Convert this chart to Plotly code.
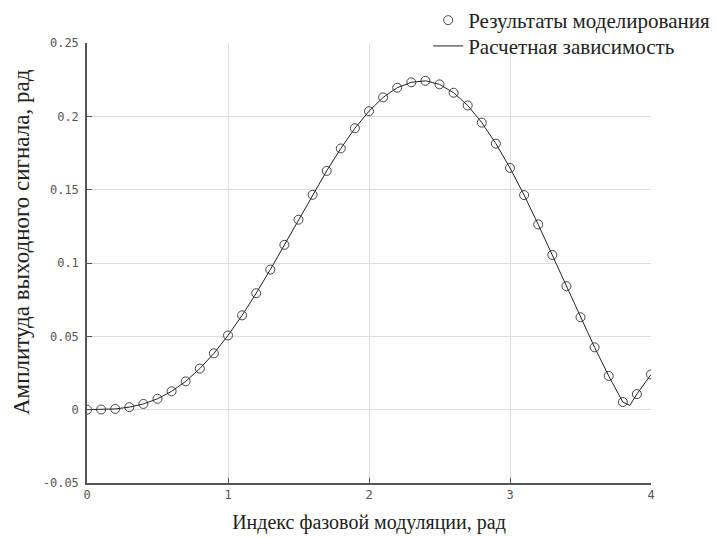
import plotly.graph_objects as go

# Phase-modulation index, rad (simulation grid)
mod_index = [0.0, 0.1, 0.2, 0.3, 0.4, 0.5, 0.6, 0.7, 0.8, 0.9,
             1.0, 1.1, 1.2, 1.3, 1.4, 1.5, 1.6, 1.7, 1.8, 1.9,
             2.0, 2.1, 2.2, 2.3, 2.4, 2.5, 2.6, 2.7, 2.8, 2.9,
             3.0, 3.1, 3.2, 3.3, 3.4, 3.5, 3.6, 3.7, 3.8, 3.9, 4.0]

# Simulated output amplitude, rad
sim_amp = [0.0, 0.0001, 0.0005, 0.0017, 0.0039, 0.0074, 0.0125, 0.0193, 0.0280, 0.0384,
           0.0506, 0.0643, 0.0794, 0.0955, 0.1124, 0.1295, 0.1465, 0.1628, 0.1781, 0.1919,
           0.2035, 0.2129, 0.2195, 0.2232, 0.2242, 0.2218, 0.2161, 0.2074, 0.1957, 0.1814,
           0.1648, 0.1463, 0.1263, 0.1055, 0.0842, 0.0630, 0.0425, 0.0230, 0.0052, 0.0106, 0.0240]

# Calculated dependence (includes the point near the minimum)
calc_x = [0.0, 0.1, 0.2, 0.3, 0.4, 0.5, 0.6, 0.7, 0.8, 0.9,
          1.0, 1.1, 1.2, 1.3, 1.4, 1.5, 1.6, 1.7, 1.8, 1.9,
          2.0, 2.1, 2.2, 2.3, 2.4, 2.5, 2.6, 2.7, 2.8, 2.9,
          3.0, 3.1, 3.2, 3.3, 3.4, 3.5, 3.6, 3.7, 3.8, 3.85, 3.9, 4.0]
calc_amp = [0.0, 0.0001, 0.0005, 0.0017, 0.0039, 0.0074, 0.0125, 0.0193, 0.0280, 0.0384,
            0.0506, 0.0643, 0.0794, 0.0955, 0.1124, 0.1295, 0.1465, 0.1628, 0.1781, 0.1919,
            0.2035, 0.2129, 0.2195, 0.2232, 0.2242, 0.2218, 0.2161, 0.2074, 0.1957, 0.1814,
            0.1648, 0.1463, 0.1263, 0.1055, 0.0842, 0.0630, 0.0425, 0.0230, 0.0052, 0.0029, 0.0106, 0.0240]

y_ticks = [-0.05, 0.0, 0.05, 0.1, 0.15, 0.2, 0.25]
y_tick_text = ["-0.05", "0", "0.05", "0.1", "0.15", "0.2", "0.25"]
x_ticks = [0, 1, 2, 3, 4]

serif = "Liberation Serif, Times New Roman, serif"
mono = "DejaVu Sans Mono, monospace"

fig = go.Figure()
fig.add_trace(go.Scatter(
    x=mod_index, y=sim_amp, mode="markers",
    name="Результаты моделирования", legend="legend",
    marker=dict(symbol="circle-open", size=9, color="#444444", line=dict(width=1)),
))
fig.add_trace(go.Scatter(
    x=calc_x, y=calc_amp, mode="lines",
    name="Расчетная зависимость", legend="legend2",
    line=dict(color="#222222", width=1),
))

axis_common = dict(
    showline=True, linecolor="#555555", linewidth=1.5,
    ticks="inside", ticklen=5, tickcolor="#555555", tickwidth=1,
    showgrid=True, gridcolor="#dddddd", gridwidth=1,
    zeroline=False, mirror=False,
    tickfont=dict(family=mono, size=12, color="#555555"),
)

fig.update_xaxes(
    range=[0, 4], tickvals=x_ticks, ticktext=[str(v) for v in x_ticks],
    title_text="Индекс фазовой модуляции, рад", title_standoff=14,
    title_font=dict(family=serif, size=20, color="#222222"),
    **axis_common,
)
fig.update_yaxes(
    range=[-0.05, 0.25], tickvals=y_ticks, ticktext=y_tick_text,
    ticklabelstandoff=4,
    **axis_common,
)

# vertical axis title, sitting a little above the plot's middle
fig.add_annotation(
    text="Амплитуда выходного сигнала, рад", textangle=-90,
    xref="paper", yref="paper", x=-0.115, y=0.548,
    xanchor="center", yanchor="middle", showarrow=False,
    font=dict(family=serif, size=23, color="#222222"),
)

legend_common = dict(
    xref="container", yref="container", xanchor="left", yanchor="top",
    font=dict(family=serif, size=21, color="#222222"),
    bgcolor="rgba(255,255,255,0)", borderwidth=0, itemwidth=30,
)

fig.update_layout(
    width=716, height=537,
    margin=dict(l=87, r=65, t=43, b=54, autoexpand=False),
    paper_bgcolor="white", plot_bgcolor="white",
    showlegend=True,
    legend=dict(x=0.598, y=1.0, **legend_common),
    legend2=dict(x=0.598, y=0.952, **legend_common),
)

fig.write_html("out.html")
